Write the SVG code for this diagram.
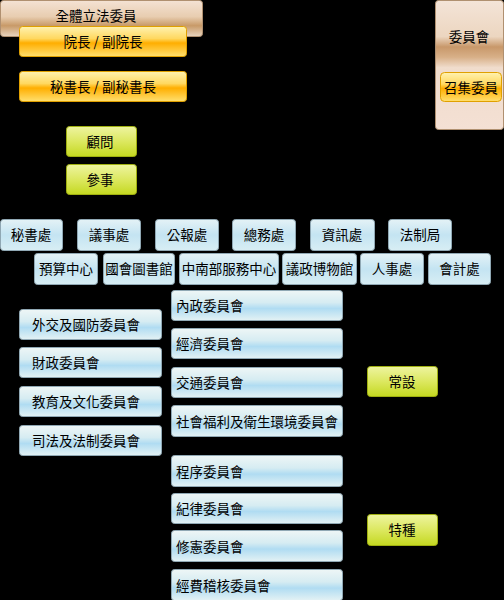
<svg xmlns="http://www.w3.org/2000/svg" width="504" height="600" viewBox="0 0 504 600">
<defs>
<linearGradient id="gTan" x1="0" y1="0" x2="0" y2="1">
<stop offset="0" stop-color="#f4e2d4"/>
<stop offset="0.45" stop-color="#e8cdb0"/>
<stop offset="0.7" stop-color="#c89a68"/>
<stop offset="1" stop-color="#e8d4c0"/>
</linearGradient>
<linearGradient id="gTanTall" x1="0" y1="0" x2="0" y2="1">
<stop offset="0" stop-color="#f4e4d8"/>
<stop offset="0.28" stop-color="#ecd6c0"/>
<stop offset="0.36" stop-color="#c8986a"/>
<stop offset="0.44" stop-color="#d8b088"/>
<stop offset="0.52" stop-color="#f0dccc"/>
<stop offset="1" stop-color="#f4e0d4"/>
</linearGradient>
<linearGradient id="gOrange" x1="0" y1="0" x2="0" y2="1">
<stop offset="0" stop-color="#fff2b0"/>
<stop offset="0.4" stop-color="#ffd860"/>
<stop offset="0.55" stop-color="#ffae00"/>
<stop offset="1" stop-color="#ffe070"/>
</linearGradient>
<linearGradient id="gGreen" x1="0" y1="0" x2="0" y2="1">
<stop offset="0" stop-color="#eef4a0"/>
<stop offset="0.5" stop-color="#dce860"/>
<stop offset="1" stop-color="#c4d820"/>
</linearGradient>
<linearGradient id="gBlue" x1="0" y1="0" x2="0" y2="1">
<stop offset="0" stop-color="#eef6f6"/>
<stop offset="0.4" stop-color="#d6ecf2"/>
<stop offset="0.6" stop-color="#b0dcf2"/>
<stop offset="1" stop-color="#e4f2f4"/>
</linearGradient>
<linearGradient id="gBlue2" x1="0" y1="0" x2="0" y2="1">
<stop offset="0" stop-color="#e4f2f6"/>
<stop offset="0.5" stop-color="#c4e4f2"/>
<stop offset="1" stop-color="#d8eef4"/>
</linearGradient>
</defs>
<style>
text{font-family:"Noto Sans CJK TC","Noto Sans CJK SC",sans-serif;font-size:13.5px;fill:#000;}
.c{text-anchor:middle;}
.tan{fill:url(#gTan);stroke:#b09070;stroke-width:1;}
.tan2{fill:url(#gTanTall);stroke:#b09070;stroke-width:1;}
.org{fill:url(#gOrange);stroke:#e0a000;stroke-width:1;}
.grn{fill:url(#gGreen);stroke:#a0b010;stroke-width:1;}
.blu{fill:url(#gBlue);stroke:#90a8b4;stroke-width:1;}
.blu2{fill:url(#gBlue2);stroke:#90a8b4;stroke-width:1;}
</style>
<rect width="504" height="600" fill="#000"/>

<g id="all-legislators"><rect class="tan" x="0.5" y="0.5" width="202" height="36" rx="3"/><text class="c" x="96" y="21">全體立法委員</text></g>
<g id="speaker"><rect class="org" x="19.5" y="26.5" width="167" height="30" rx="3"/><text class="c" x="103" y="47">院長 / 副院長</text></g>
<g id="secgen"><rect class="org" x="19.5" y="71.5" width="167" height="30" rx="3"/><text class="c" x="103" y="92">秘書長 / 副秘書長</text></g>
<g id="advisor"><rect class="grn" x="66.5" y="126.5" width="70" height="30" rx="3"/><text class="c" x="100" y="147">顧問</text></g>
<g id="counselor"><rect class="grn" x="66.5" y="164.5" width="70" height="30" rx="3"/><text class="c" x="100" y="185">參事</text></g>

<g id="committee"><rect class="tan2" x="435.5" y="0.5" width="68" height="129" rx="3"/><text class="c" x="469" y="42">委員會</text></g>
<g id="convener"><rect class="org" x="440.5" y="72.5" width="61" height="29" rx="4"/><text class="c" x="471" y="93">召集委員</text></g>

<g id="secretariat"><rect class="blu2" x="0.5" y="219.5" width="62" height="31" rx="3"/><text class="c" x="31" y="240">秘書處</text></g>
<g id="proceedings"><rect class="blu2" x="77.5" y="219.5" width="63" height="31" rx="3"/><text class="c" x="109" y="240">議事處</text></g>
<g id="gazette"><rect class="blu2" x="155.5" y="219.5" width="63" height="31" rx="3"/><text class="c" x="187" y="240">公報處</text></g>
<g id="general-affairs"><rect class="blu2" x="232.5" y="219.5" width="63" height="31" rx="3"/><text class="c" x="264" y="240">總務處</text></g>
<g id="it"><rect class="blu2" x="310.5" y="219.5" width="64" height="31" rx="3"/><text class="c" x="342" y="240">資訊處</text></g>
<g id="legal"><rect class="blu2" x="388.5" y="219.5" width="63" height="31" rx="3"/><text class="c" x="420" y="240">法制局</text></g>

<g id="budget"><rect class="blu2" x="34.5" y="253.5" width="63" height="31" rx="3"/><text class="c" x="66" y="274">預算中心</text></g>
<g id="library"><rect class="blu2" x="103.5" y="253.5" width="71" height="31" rx="3"/><text class="c" x="139" y="274">國會圖書館</text></g>
<g id="service-center"><rect class="blu2" x="179.5" y="253.5" width="99" height="31" rx="3"/><text class="c" x="229" y="274">中南部服務中心</text></g>
<g id="museum"><rect class="blu2" x="282.5" y="253.5" width="74" height="31" rx="3"/><text class="c" x="319.5" y="274">議政博物館</text></g>
<g id="personnel"><rect class="blu2" x="360.5" y="253.5" width="63" height="31" rx="3"/><text class="c" x="392" y="274">人事處</text></g>
<g id="accounting"><rect class="blu2" x="428.5" y="253.5" width="62" height="31" rx="3"/><text class="c" x="459.5" y="274">會計處</text></g>

<g id="foreign"><rect class="blu" x="19.5" y="309.5" width="142" height="30" rx="3"/><text x="32" y="330">外交及國防委員會</text></g>
<g id="finance"><rect class="blu" x="19.5" y="347.5" width="142" height="30" rx="3"/><text x="32" y="368">財政委員會</text></g>
<g id="education"><rect class="blu" x="19.5" y="386.5" width="142" height="30" rx="3"/><text x="32" y="407">教育及文化委員會</text></g>
<g id="judiciary"><rect class="blu" x="19.5" y="425.5" width="142" height="30" rx="3"/><text x="32" y="446">司法及法制委員會</text></g>

<g id="interior"><rect class="blu" x="171.5" y="290.5" width="171" height="30" rx="3"/><text x="176" y="311">內政委員會</text></g>
<g id="economics"><rect class="blu" x="171.5" y="328.5" width="171" height="30" rx="3"/><text x="176" y="349">經濟委員會</text></g>
<g id="transport"><rect class="blu" x="171.5" y="367.5" width="171" height="30" rx="3"/><text x="176" y="388">交通委員會</text></g>
<g id="social-welfare"><rect class="blu" x="171.5" y="405.5" width="171" height="31" rx="3"/><text x="176" y="427">社會福利及衛生環境委員會</text></g>
<g id="procedure"><rect class="blu" x="171.5" y="455.5" width="171" height="31" rx="3"/><text x="176" y="477">程序委員會</text></g>
<g id="discipline"><rect class="blu" x="171.5" y="493.5" width="171" height="30" rx="3"/><text x="176" y="514">紀律委員會</text></g>
<g id="constitution"><rect class="blu" x="171.5" y="530.5" width="171" height="31" rx="3"/><text x="176" y="552">修憲委員會</text></g>
<g id="expenditure"><rect class="blu" x="171.5" y="569.5" width="171" height="31" rx="3"/><text x="176" y="591">經費稽核委員會</text></g>

<g id="standing"><rect class="grn" x="367.5" y="366.5" width="70" height="30" rx="3"/><text class="c" x="402" y="387">常設</text></g>
<g id="special"><rect class="grn" x="367.5" y="514.5" width="70" height="31" rx="3"/><text class="c" x="402" y="535">特種</text></g>

<g id="connectors"></g>
</svg>
